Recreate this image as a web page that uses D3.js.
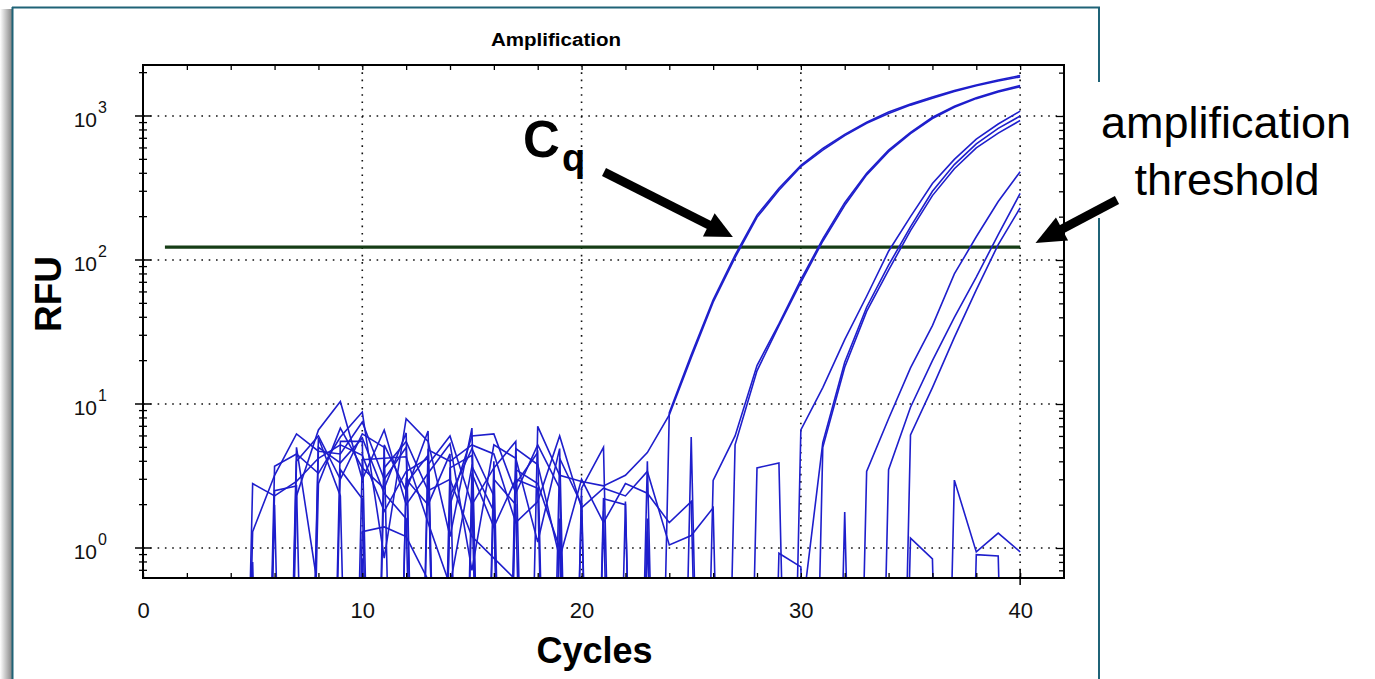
<!DOCTYPE html>
<html><head><meta charset="utf-8">
<script src="https://cdn.jsdelivr.net/npm/d3@7"></script>
<style>
body{margin:0;background:#fff;}
svg{display:block;font-family:Arial,"Liberation Sans",Helvetica,sans-serif;}
</style>
</head><body>
<svg id="chart" width="1375" height="679"></svg>
<script>
// ---------------- data ----------------
const cycles = d3.range(1, 41);              // cycle numbers 1..40
const xTickValues = [0, 10, 20, 30, 40];
const yMajorExps = [0, 1, 2, 3];
const thresholdRFU = 123;
const thresholdCycles = [1, 40];
const chartTitle = "Amplification";
const xLabel = "Cycles";
const yLabel = "RFU";
// RFU per cycle (1..40); 0 = zero / negative (off-scale on the log axis)
const trace01 = [0,0,0,0, 2.8,2.3,2.9,4.2,5.2,4.4, 1.8,3.4,4.2,0,3.3,1.4,3.0,2.6,0,2.3, 0,2.1,0,8.7,22,53,108,205,315,455, 595,745,905,1065,1210,1355,1500,1640,1780,1910];
const trace02 = [0,0,0,0, 1.3,3.2,6.2,4.7,4.5,7.5, 3.0,5.0,0,2.3,4.9,2.3,0,7.0,3.2,2.9, 2.7,3.2,4.6,8.4,21,51,104,198,305,445, 580,730,890,1040,1190,1330,1480,1620,1750,1870];
const trace03 = [0,0,0,0, 0.8,0,2.3,6.6,10.4,3.0, 6.6,2.0,3.3,5.3,0.7,5.2,4.2,1.1,4.9,0, 1.8,0,1.6,0,0,2.95,6.0,18.5,36,73, 140,250,400,580,770,980,1170,1340,1490,1630];
const trace04 = [0,0,0,0, 0,3.7,4.5,3.3,5.9,8.8, 0.85,7.9,5.5,1.2,6.8,0,4.9,3.8,0.85,3.0, 1.5,2.8,2.4,1.5,2.1,0,5.2,17,35,70, 135,240,390,565,755,960,1150,1320,1470,1600];
const trace05 = [0,0,0,0, 0,0.6,0,0,0,4.1, 4.2,4.3,1.5,0.55,3.7,1.8,0,0,1.6,0, 0,0,0,0,0,0,0,0,0,6.6, 13,28,56,115,200,340,500,690,880,1080];
const trace06 = [0,0,0,0, 0,0,5.0,0.5,0,0.85, 0,0,0,0,0,0,0,0,0,0, 0,0,0,0,0,0,0,0,0,0.3, 5.4,19.5,47,92,170,300,460,640,820,1000];
const trace07 = [0,0,0,0, 0,0,0,5.8,2.3,0, 0,0,0,0,0,0,0,0,0,0, 0,0,0,0,0,0,0,0,0,0, 5.0,18,44,85,160,280,430,600,760,930];
const trace08 = [0,0,0,0, 0,0,0,0,5.5,5.5, 0,2.8,4.4,0,2.4,0,3.5,2.8,1.0,0, 0,0,0,0,0,0,0,0,0,0, 0,0,3.4,7.9,17.8,35,80,145,255,410];
const trace09 = [0,0,0,0, 0,0,0,0,0,1.3, 1.4,1.2,0.6,0,0,0,0,0,0,0, 0,0,0,0,0,0,0,0,0,0, 0,0,0,3.5,9.5,20,40,76,150,290];
const trace10 = [0,0,0,0, 0,0,0,0,0,0, 3.6,5.5,2.5,3.0,1.2,0.85,0.6,0,0,0, 0,0,0,0,0,0,0,0,0,0, 0,0,0,0,6.1,13,29,62,128,230];
const trace11 = [0,0,0,0, 0,0,0,0,0,0, 0,0,4.8,4.0,5.2,4.5,1.5,2.1,6.0,1.9, 2.6,2.3,3.4,1.05,1.22,1.9,0,0,0,0, 0,0,0,0,0,0,0,0,0,0];
const trace12 = [0,0,0,0, 0,0,0,5.0,3.9,5.8, 2.4,1.6,0,2.0,6.0,6.2,2.4,5.2,2.6,0, 0,0,0,0,0,0,0,0,0,0, 0,0,0,0,0,0,0,0,0,0];
const trace13 = [0,0,0,0, 0,2.5,2.7,0,3.5,2.2, 0,3.0,2.0,4.5,0,3.0,2.0,0,0,2.6, 5.0,0,1.3,0,0,0,0,0,0,0, 0,0,0,0,0,0,0,0,0,0];
const trace14 = [0,0,0,0, 0,0,0,0,0,0, 5.2,2.5,6.5,0,0,4.0,0,0,0,0, 0,0,4.0,0,0,0,0,0,0,0, 0,0,0,0,0,0,0,0,0,0];
const trace15 = [0,0,0,0, 0,0,0,0,0,0, 0,0,0,0,0,0,0,0,0,0, 0,0,0,0,5.9,0,0,3.6,3.9,0, 0,0,0,0,0,0,0,0,0,0];
const trace16 = [0,0,0,0, 0,0,0,0,0,0, 0,0,0,0,0,0,0,0,0,0, 0,0,0,0,0,0,0,0,0.92,0.74, 0,1.78,0,0,0,0,0,0.9,0.88,0];
const trace17 = [0,0,0,0, 0,0,0,0,0,0, 0,0,0,0,0,0,0,0,0,0, 0,0,0,0,0,0,0,0,0,0, 0,0,0,0,1.17,0.84,0,0,0,0];
const trace18 = [0,0,0,0, 0,0,0,0,0,0, 0,0,0,0,0,0,0,0,0,0, 0,0,0,0,0,0,0,0,0,0, 0,0,0,0,0,0,2.96,0.94,1.27,0.94];
const trace19 = [0,0,0,0, 0,0,4.0,6.0,3.0,6.2, 5.0,0,3.8,6.0,2.0,3.6,5.5,0,4.2,2.0, 0,0,0,0,0,0,0,0,0,0, 0,0,0,0,0,0,0,0,0,0];
const trace20 = [0,0,0,0, 0,2.0,0,2.8,6.8,3.6, 2.6,6.3,0,3.6,4.4,0,2.8,4.6,0,0, 2.2,2.0,0,0,0,0,0,0,0,0, 0,0,0,0,0,0,0,0,0,0];
const traces = [trace01,trace02,trace03,trace04,trace05,trace06,trace07,trace08,trace09,trace10,
                trace11,trace12,trace13,trace14,trace15,trace16,trace17,trace18,trace19,trace20];

// ---------------- layout ----------------
const svg = d3.select("#chart");
const P = {left:143, right:1064, top:65, bottom:578};
const xScale = d3.scaleLinear().domain([0, 42]).range([P.left, P.right]);
const yScale = d3.scaleLog().domain([0.619, 2260]).range([P.bottom, P.top]);
const FLOOR = 1e-6;
const lineBlue = "#1e1ecc";

// frame with shadow
const defs = svg.append("defs");
const g1 = defs.append("linearGradient").attr("id","shadow").attr("x1","0").attr("x2","1");
g1.append("stop").attr("offset","0").attr("stop-color","#ffffff");
g1.append("stop").attr("offset","1").attr("stop-color","#858585");
svg.append("rect").attr("x",0).attr("y",9).attr("width",12).attr("height",679).attr("fill","url(#shadow)");
const frameColor = "#1f6377";
svg.append("line").attr("x1",12).attr("x2",1100).attr("y1",7.5).attr("y2",7.5).attr("stroke",frameColor).attr("stroke-width",2);
svg.append("line").attr("x1",12.5).attr("x2",12.5).attr("y1",7).attr("y2",679).attr("stroke",frameColor).attr("stroke-width",2);
svg.append("line").attr("x1",1099).attr("x2",1099).attr("y1",7).attr("y2",679).attr("stroke",frameColor).attr("stroke-width",2);

// title
svg.append("text").attr("x",556).attr("y",45.5).attr("text-anchor","middle")
  .attr("font-size",18).attr("font-weight","bold").attr("textLength",130).attr("lengthAdjust","spacingAndGlyphs")
  .text(chartTitle);

// tick values
const yMinor = [];
for (let k=-1;k<=3;k++) for (let m=2;m<=9;m++){ const v=m*Math.pow(10,k); if(v>=0.619 && v<=2260) yMinor.push(v); }
const yMajor = yMajorExps.map(e => Math.pow(10,e));

// grid (dotted)
const grid = svg.append("g").attr("stroke","#111").attr("stroke-width",1.6).attr("stroke-dasharray","1.6,5.7");
grid.selectAll("line.h").data(yMajor).join("line")
  .attr("x1",P.left).attr("x2",P.right).attr("y1",d=>yScale(d)).attr("y2",d=>yScale(d));
grid.selectAll("line.v").data(xTickValues.filter(d=>d>0)).join("line")
  .attr("x1",d=>xScale(d)).attr("x2",d=>xScale(d)).attr("y1",P.top).attr("y2",P.bottom);

// clip
defs.append("clipPath").attr("id","plotclip").append("rect")
  .attr("x",P.left).attr("y",P.top).attr("width",P.right-P.left).attr("height",P.bottom-P.top);

// threshold
svg.append("line").attr("x1",xScale(thresholdCycles[0])).attr("x2",xScale(thresholdCycles[1]))
  .attr("y1",yScale(thresholdRFU)).attr("y2",yScale(thresholdRFU))
  .attr("stroke","#163d16").attr("stroke-width",3.2);

// traces
const line = d3.line().x((d,i)=>xScale(cycles[i])).y(d=>yScale(Math.max(d,FLOOR)));
svg.append("g").attr("clip-path","url(#plotclip)")
  .selectAll("path").data(traces).join("path")
  .attr("d",line).attr("fill","none").attr("stroke",lineBlue).attr("stroke-width",1.6)
  .attr("stroke-linejoin","miter");

// axes
const axG = svg.append("g");
// bottom
const xb = axG.append("g").attr("transform",`translate(0,${P.bottom})`)
  .call(d3.axisBottom(xScale).tickValues(d3.range(0,42,2)).tickSize(-5).tickPadding(24)
    .tickFormat(d => d%10===0 ? d : ""));
xb.select(".domain").remove();
xb.selectAll("text").attr("font-size",22).attr("font-family","Arial,'Liberation Sans',sans-serif").attr("fill","#111");
// top
const xt = axG.append("g").attr("transform",`translate(0,${P.top})`)
  .call(d3.axisTop(xScale).tickValues(d3.range(2,42,2)).tickSize(-5).tickFormat(""));
xt.select(".domain").remove();
// right
const yrMin = axG.append("g").attr("transform",`translate(${P.right},0)`)
  .call(d3.axisRight(yScale).tickValues(yMinor).tickSize(-5).tickFormat(""));
yrMin.select(".domain").remove();
const yrMaj = axG.append("g").attr("transform",`translate(${P.right},0)`)
  .call(d3.axisRight(yScale).tickValues(yMajor).tickSize(-8).tickFormat(""));
yrMaj.select(".domain").remove();
axG.selectAll("g line").attr("stroke","#000").attr("stroke-width",1.3);
// left: crossing ticks
const leftG = axG.append("g");
leftG.selectAll("line.mn").data(yMinor).join("line")
  .attr("x1",P.left-4).attr("x2",P.left+4).attr("y1",d=>yScale(d)).attr("y2",d=>yScale(d))
  .attr("stroke","#000").attr("stroke-width",1.3);
leftG.selectAll("line.mj").data(yMajor).join("line")
  .attr("x1",P.left-8).attr("x2",P.left+8).attr("y1",d=>yScale(d)).attr("y2",d=>yScale(d))
  .attr("stroke","#000").attr("stroke-width",1.5);
// c40 crossing tick
axG.append("line").attr("x1",xScale(40)).attr("x2",xScale(40)).attr("y1",P.bottom-9).attr("y2",P.bottom+7)
  .attr("stroke","#000").attr("stroke-width",1.5);
// y labels
const yl = leftG.selectAll("g.lbl").data(yMajorExps).join("g")
  .attr("transform",d=>`translate(0,${yScale(Math.pow(10,d))})`);
yl.append("text").attr("x",97).attr("y",11).attr("text-anchor","end").attr("font-size",21).attr("fill","#111").text("10");
yl.append("text").attr("x",98).attr("y",-3).attr("font-size",16).attr("fill","#111").text(d=>d);
// box
axG.append("rect").attr("x",P.left).attr("y",P.top).attr("width",P.right-P.left).attr("height",P.bottom-P.top)
  .attr("fill","none").attr("stroke","#000").attr("stroke-width",2);

// axis titles
svg.append("text").attr("x",(xScale(0)+xScale(42))/2 - 9).attr("y",663).attr("text-anchor","middle")
  .attr("font-size",36).attr("font-weight","bold").text(xLabel);
svg.append("text").attr("transform","translate(61,294) rotate(-90)").attr("text-anchor","middle")
  .attr("font-size",37).attr("font-weight","bold").text(yLabel);

// annotations
function arrow(x1,y1,x2,y2,headLen,headHalf,w){
  const dx=x2-x1, dy=y2-y1, L=Math.hypot(dx,dy), ux=dx/L, uy=dy/L, px=-uy, py=ux;
  const bx=x2-ux*headLen, by=y2-uy*headLen;
  svg.append("line").attr("x1",x1).attr("y1",y1).attr("x2",bx+ux*2).attr("y2",by+uy*2)
    .attr("stroke","#000").attr("stroke-width",w);
  svg.append("path").attr("d",`M${x2},${y2}L${bx+px*headHalf},${by+py*headHalf}L${bx-px*headHalf},${by-py*headHalf}Z`)
    .attr("fill","#000");
}
// Cq
svg.append("text").attr("x",523).attr("y",157).attr("font-size",51).attr("font-weight","bold").text("C");
svg.append("text").attr("x",562).attr("y",171).attr("font-size",38).attr("font-weight","bold").text("q");
arrow(604,172, xScale(26.9), yScale(thresholdRFU)-10, 27, 13, 9);
// threshold label
svg.append("rect").attr("x",1076).attr("y",82).attr("width",299).attr("height",136).attr("fill","#fff");
const tl = svg.append("text").attr("text-anchor","middle").attr("font-size",45).attr("fill","#000");
tl.append("tspan").attr("x",1226).attr("y",138).text("amplification");
tl.append("tspan").attr("x",1227).attr("y",195).text("threshold");
arrow(1117,200, xScale(40.7), yScale(thresholdRFU)-4, 30, 13, 9);
</script>
</body></html>
